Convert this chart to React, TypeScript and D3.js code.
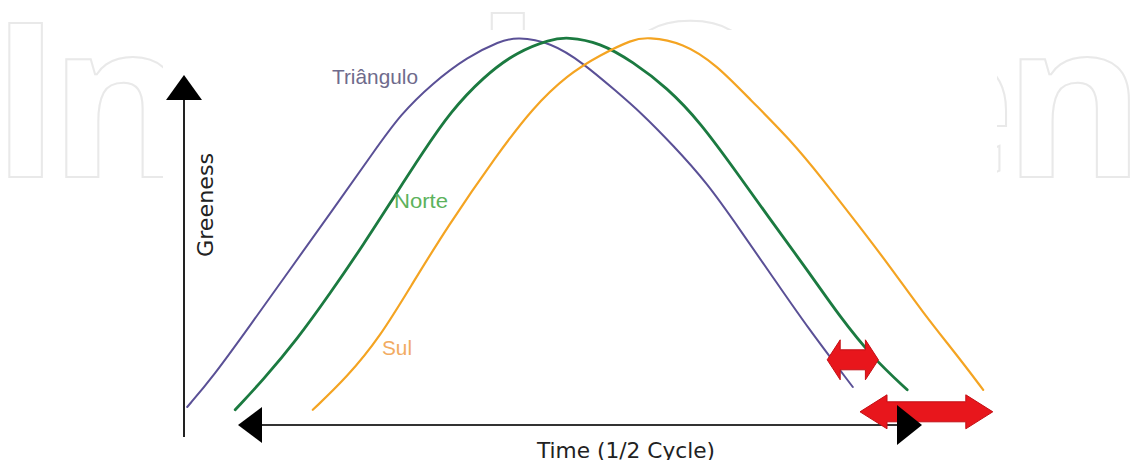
import React from 'react';
import * as d3 from 'd3';

const W = 1143;
const H = 460;

// Time (arbitrary units, 0..100) and greenness (0..100)
const triTime = [0.4, 3.6, 8.3, 13.3, 18.3, 23.9, 27, 31.1, 35.4, 39.5, 41.6, 45.8, 49.9, 54.1, 57, 61.1, 65.4, 69.5, 73.6, 77.9, 83.6];
const triGreen = [7.5, 15, 28, 42, 56, 71.8, 80.5, 88.5, 95, 99, 100, 98.7, 93.5, 86.3, 81.3, 73, 63.5, 51.8, 40, 27.5, 12.5];

const norteTime = [6.4, 9.9, 14.1, 18.3, 22.4, 26.4, 29.9, 33.3, 37.4, 41.6, 45.8, 47.9, 52, 56.1, 60.4, 64.5, 69.5, 73.6, 77.9, 82, 86.1, 90.4];
const norteGreen = [6.8, 14.3, 24.3, 36, 48, 60.5, 71.3, 81.3, 90, 96.3, 99.4, 100, 98.6, 93.8, 87.3, 78.8, 65, 53.5, 41.8, 30, 19.8, 11.8];

const sulTime = [16.1, 20.4, 24.5, 28.6, 32.9, 39.1, 43.6, 47.9, 52, 56.1, 57.9, 62.4, 66.6, 70.8, 75.8, 79.9, 84.1, 88.3, 92.4, 96.6, 99.9];
const sulGreen = [6.8, 15, 25, 38.5, 52.5, 70.5, 82.3, 90.5, 95.5, 99.4, 100, 98.6, 93, 84.3, 74.3, 64.3, 53.5, 42.5, 31, 20.5, 11.8];

const seriesNames = ['Triângulo', 'Norte', 'Sul'];
const seriesColors = ['#5a5096', '#1b7a40', '#f4a422'];
const labelColors = ['#6f6b8c', '#5cb25c', '#f2ab62'];
const seriesWidths = [2, 2.8, 2.2];

// Phase shift arrows (time from / to, greenness level)
const shiftFrom = [80.4, 84.5];
const shiftTo = [86.8, 101.1];
const shiftLevel = [19.3, 6.3];

const xLabel = 'Time (1/2 Cycle)';
const yLabel = 'Greeness';

export default function App() {
  const x = d3.scaleLinear().domain([0, 100]).range([184, 984]);
  const y = d3.scaleLinear().domain([0, 100]).range([437, 37]);

  const line = d3
    .line<[number, number]>()
    .x((d) => x(d[0]))
    .y((d) => y(d[1]))
    .curve(d3.curveBasis);

  const series = [
    d3.zip(triTime, triGreen) as [number, number][],
    d3.zip(norteTime, norteGreen) as [number, number][],
    d3.zip(sulTime, sulGreen) as [number, number][],
  ];

  const labelPos = [
    { x: 332, y: 84 },
    { x: 394, y: 208 },
    { x: 382, y: 355 },
  ];
  const labelLen = [86, 54, 30];

  const dbl = (x0: number, x1: number, yc: number, sh: number, hh: number, hl: number) =>
    `M${x0},${yc}L${x0 + hl},${yc - hh}L${x0 + hl},${yc - sh}L${x1 - hl},${yc - sh}L${x1 - hl},${yc - hh}L${x1},${yc}L${x1 - hl},${yc + hh}L${x1 - hl},${yc + sh}L${x0 + hl},${yc + sh}L${x0 + hl},${yc + hh}Z`;

  const axisX = x(0);
  const axisY = 425;

  return (
    <svg
      width={W}
      height={H}
      style={{ position: 'absolute', left: 0, top: 0, background: '#fff' }}
    >
      <rect x={0} y={0} width={W} height={H} fill="#fff" />
      {/* watermark */}
      <text
        x={-10}
        y={177}
        fontFamily="Open Sans"
        fontWeight={700}
        fontSize={215}
        textLength={1155}
        lengthAdjust="spacing"
        fill="none"
        stroke="#e9e9e9"
        strokeWidth={2}
      >
        IntechOpen
      </text>
      <rect x={163} y={30} width={834} height={420} fill="#fff" />

      {/* series lines */}
      {series.map((s, i) => (
        <path
          key={seriesNames[i]}
          d={line(s) || ''}
          fill="none"
          stroke={seriesColors[i]}
          strokeWidth={seriesWidths[i]}
          strokeLinecap="round"
        />
      ))}

      {/* series labels */}
      {seriesNames.map((n, i) => (
        <text
          key={n}
          x={labelPos[i].x}
          y={labelPos[i].y}
          fontFamily="Liberation Sans, Arial, sans-serif"
          fontSize={21}
          fill={labelColors[i]}
          textLength={labelLen[i]}
          lengthAdjust="spacingAndGlyphs"
        >
          {n}
        </text>
      ))}

      {/* y axis */}
      <line x1={axisX} x2={axisX} y1={98} y2={437} stroke="#222" strokeWidth={2} />
      <path d={`M${axisX},75L${axisX + 18},100L${axisX - 18},100Z`} fill="#000" />
      <text
        transform={`translate(213,205) rotate(-90)`}
        textAnchor="middle"
        fontFamily="DejaVu Sans, Verdana, sans-serif"
        fontSize={22}
        fill="#222"
        textLength={104}
        lengthAdjust="spacingAndGlyphs"
      >
        {yLabel}
      </text>

      {/* x axis */}
      <line x1={260} x2={900} y1={axisY} y2={axisY} stroke="#333" strokeWidth={2} />
      <path d={`M238,${axisY}L262,${axisY - 18}L262,${axisY + 18}Z`} fill="#000" />

      {/* phase shift arrows */}
      <path
        d={dbl(x(shiftFrom[0]), x(shiftTo[0]), y(shiftLevel[0]), 10, 20, 13)}
        fill="#e8161c"
        stroke="#c40f14"
        strokeWidth={1}
        strokeLinejoin="round"
      />
      <path
        d={dbl(x(shiftFrom[1]), x(shiftTo[1]), y(shiftLevel[1]), 10, 17, 27)}
        fill="#e8161c"
        stroke="#c40f14"
        strokeWidth={1}
        strokeLinejoin="round"
      />

      <path d={`M922,${axisY}L897,${axisY - 20}L897,${axisY + 20}Z`} fill="#000" />

      <text
        x={626}
        y={458}
        textAnchor="middle"
        fontFamily="DejaVu Sans, Verdana, sans-serif"
        fontSize={22}
        fill="#222"
        textLength={178}
        lengthAdjust="spacingAndGlyphs"
      >
        {xLabel}
      </text>
    </svg>
  );
}
